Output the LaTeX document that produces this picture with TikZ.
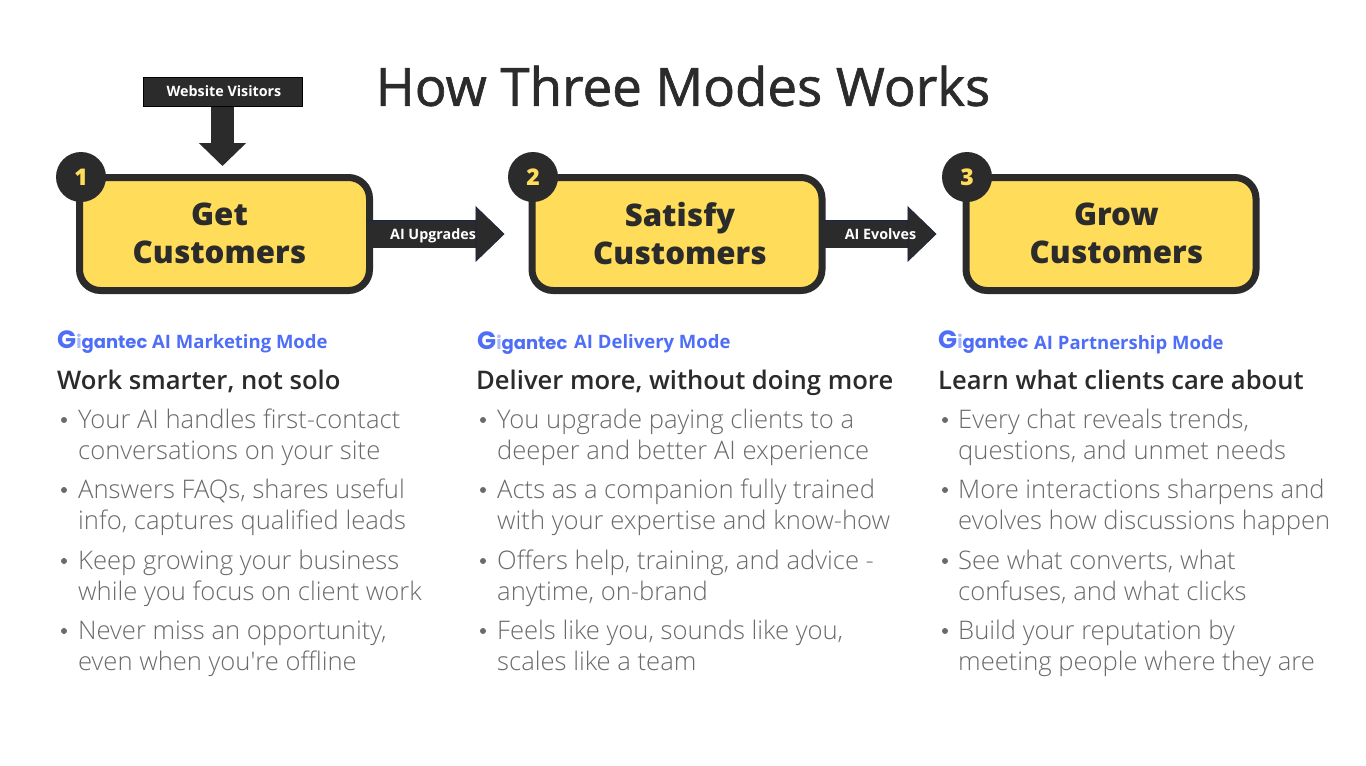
\documentclass[tikz,border=0pt]{standalone}
\usepackage{fontspec}
\usepackage{tikz}
\usepackage{xcolor}
\usetikzlibrary{arrows.meta, positioning}
\setmainfont{Open Sans}
\newfontfamily\logofont{Poppins}
\newfontfamily\lightfont{Open Sans Light}
\newfontfamily\semifont{Open Sans Semibold}
\newfontfamily\heavyfont{Open Sans Extrabold}
\newfontfamily\titlefont[FakeBold=1.2]{Open Sans}
\definecolor{inkdark}{HTML}{2B2B2B}
\definecolor{boxyellow}{HTML}{FFDC5A}
\definecolor{modeblue}{HTML}{4F6EF7}
\definecolor{logopale}{HTML}{A9B9FB}
\definecolor{bodygrey}{HTML}{6A6A6A}
\definecolor{arrowedge}{HTML}{1B2347}
\newcommand{\logotext}{{\logofont\fontsize{18}{20}\selectfont\bfseries{\fontsize{25}{20}\selectfont G}\textcolor{logopale}{i}gantec}}

\tikzset{
    stagebox/.style={draw=inkdark, line width=7pt, fill=boxyellow, rounded corners=21pt, minimum width=290pt, minimum height=113pt},
    stagetext/.style={align=center, inner sep=0pt, text=inkdark, font=\heavyfont\fontsize{31.2}{38}\selectfont},
    badge/.style={circle, fill=inkdark, minimum size=50pt, inner sep=0pt, text=boxyellow, font=\heavyfont\fontsize{23}{24}\selectfont},
    tag/.style={anchor=base, text=white, inner sep=0pt, font=\fontsize{14.3}{16}\selectfont\bfseries},
    flow/.style={draw=arrowedge, double=inkdark, double distance=27pt, line width=.7pt, -{Triangle[length=29pt, width=56pt, line width=.7pt, fill=inkdark]}},
    mode/.style={anchor=base west, inner sep=0pt, text=modeblue, font=\fontsize{18.5}{20}\selectfont\bfseries},
    brand/.style={anchor=base west, inner sep=0pt, text=modeblue},
    lead/.style={anchor=base west, inner sep=0pt, text=inkdark, font=\semifont\fontsize{25.6}{30}\selectfont},
    item/.style={anchor=base west, inner sep=0pt, align=left, text=bodygrey, font=\lightfont\fontsize{25.6}{31}\selectfont},
    dot/.style={circle, fill=bodygrey, minimum size=6pt, inner sep=0pt}
}

\begin{document}
\begin{tikzpicture}[x=1pt, y=-1pt]
    \path[use as bounding box, fill=white] (0, 0) rectangle (1366, 766);

    \node (title) at (683, 86) [text=inkdark, inner sep=0pt, font=\titlefont\fontsize{52.8}{60}\selectfont] {How Three Modes Works};

    % stages
    \node (get) at (224.5, 234) [stagebox] {};
    \node (satisfy) at (677, 234) [stagebox] {};
    \node (grow) at (1111, 234) [stagebox] {};
    \node (gettext) at (219.5, 233.5) [stagetext] {Get\\Customers};
    \node (satisfytext) at (680, 233.5) [stagetext] {Satisfy\\Customers};
    \node (growtext) at (1116.5, 233.5) [stagetext] {Grow\\Customers};

    \node (badge1) at (81, 177) [badge] {1};
    \node (badge2) at (533, 177) [badge] {2};
    \node (badge3) at (967, 177) [badge] {3};

    \node (visitors) at (222.5, 92) [fill=inkdark, draw=black, line width=.5pt, minimum width=159pt, minimum height=29pt, inner sep=0pt] {};
    \node (visitorstext) at (224, 96.5) [tag] {Website Visitors};

    % arrows
    \draw[line width=23pt, draw=inkdark, shorten >=8pt, -{Triangle[length=23pt, width=46pt, fill=inkdark]}]
    (visitors.south) -- (visitors.south |- get.north);
    \draw[flow, shorten <=-7pt, shorten >=24pt] (get.east) -- (satisfy.west);
    \draw[flow, shorten <=-2pt, shorten >=26pt] (satisfy.east) -- (grow.west);

    \node (upgrades) at (433, 239) [tag] {AI Upgrades};
    \node (evolves) at (880.5, 239) [tag] {AI Evolves};

    % first column
    \node (logo1) at (57, 348) [brand] {\logotext};
    \node (mode1) at (152, 348) [mode] {AI Marketing Mode};
    \node (lead1) at (57, 389) [lead] {Work smarter, not solo};
    \node (dot11) at (64, 420) [dot] {};
    \node (dot12) at (64, 490) [dot] {};
    \node (dot13) at (64, 561) [dot] {};
    \node (dot14) at (64, 631) [dot] {};
    \node (item11) at (78, 459) [item] {Your AI handles first-contact\\conversations on your site};
    \node (item12) at (78, 529) [item] {Answers FAQs, shares useful\\info, captures qualified leads};
    \node (item13) at (78, 600) [item] {Keep growing your business\\while you focus on client work};
    \node (item14) at (78, 670) [item] {Never miss an opportunity,\\even when you\textquotesingle re offline};

    % second column
    \node (logo2) at (477, 349) [brand] {\logotext};
    \node (mode2) at (574, 348) [mode] {AI Delivery Mode};
    \node (lead2) at (476, 389) [lead] {Deliver more, without doing more};
    \node (dot21) at (483, 420) [dot] {};
    \node (dot22) at (483, 490) [dot] {};
    \node (dot23) at (483, 561) [dot] {};
    \node (dot24) at (483, 631) [dot] {};
    \node (item21) at (497, 459) [item] {You upgrade paying clients to a\\deeper and better AI experience};
    \node (item22) at (497, 529) [item] {Acts as a companion fully trained\\with your expertise and know-how};
    \node (item23) at (497, 600) [item] {Offers help, training, and advice -\\anytime, on-brand};
    \node (item24) at (497, 670) [item] {Feels like you, sounds like you,\\scales like a team};

    % third column
    \node (logo3) at (938, 348) [brand] {\logotext};
    \node (mode3) at (1034, 349) [mode] {AI Partnership Mode};
    \node (lead3) at (938, 389) [lead] {Learn what clients care about};
    \node (dot31) at (945, 420) [dot] {};
    \node (dot32) at (945, 490) [dot] {};
    \node (dot33) at (945, 561) [dot] {};
    \node (dot34) at (945, 631) [dot] {};
    \node (item31) at (958, 459) [item] {Every chat reveals trends,\\questions, and unmet needs};
    \node (item32) at (958, 529) [item] {More interactions sharpens and\\evolves how discussions happen};
    \node (item33) at (958, 600) [item] {See what converts, what\\confuses, and what clicks};
    \node (item34) at (958, 670) [item] {Build your reputation by\\meeting people where they are};
\end{tikzpicture}
\end{document}
